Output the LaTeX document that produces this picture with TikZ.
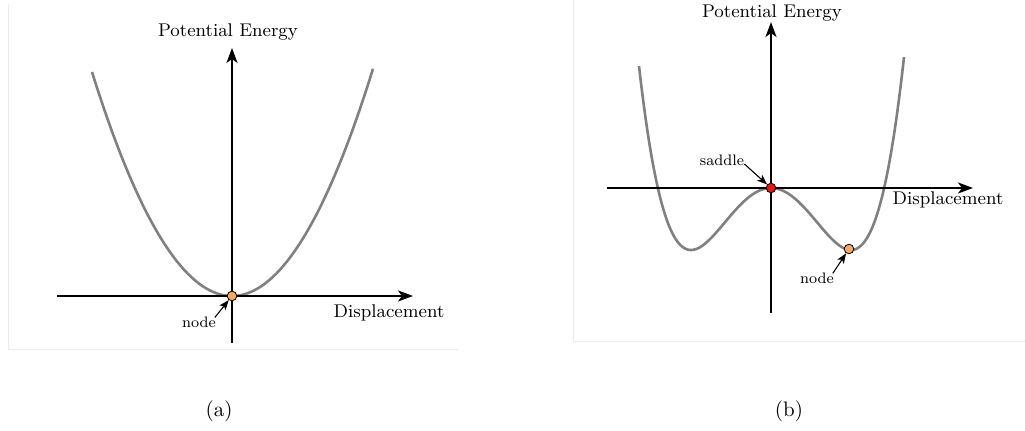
\documentclass[tikz,border=0pt]{standalone}
\usetikzlibrary{arrows.meta}
\definecolor{curvegray}{RGB}{128,128,128}
\definecolor{framegray}{RGB}{236,236,236}
\definecolor{nodeorange}{RGB}{246,168,96}
\definecolor{saddlered}{RGB}{235,20,20}
\begin{document}
\begin{tikzpicture}[x=0.5pt,y=-0.5pt,
  axis/.style={line width=1.1pt,-{Stealth[length=7.5pt,width=5.5pt,inset=2pt]}},
  curve/.style={line width=1.3pt,color=curvegray},
  frameline/.style={line width=0.5pt,color=framegray},
  biglabel/.style={inner sep=0pt,font=\fontsize{9.2}{11}\selectfont},
  smalllabel/.style={inner sep=0pt,font=\fontsize{7.6}{9}\selectfont},
  caplabel/.style={inner sep=0pt,font=\fontsize{10.5}{12}\selectfont},
  marker/.style={circle,draw=black,line width=0.4pt,inner sep=0pt,minimum size=4.8pt},
  labarrow/.style={line width=0.55pt,-{Stealth[length=5pt,width=3.8pt,inset=1.2pt]}}]
\useasboundingbox (0,0) rectangle (1025,431);
% frames
\draw[frameline] (8,4) -- (8,350) -- (458,350);
\draw[frameline] (573,0) -- (573,342) -- (1025,342);
% ---------- panel (a) ----------
\coordinate (aL) at (57,296);
\coordinate (aR) at (413,296);
\coordinate (aB) at (232,343);
\coordinate (aT) at (232,48);
\draw[curve] plot[domain=-140:141,samples=120] ({232+\x},{296-224*(\x/140)^2});
\draw[axis] (aL) -- (aR);
\draw[axis] (aB) -- (aT);
\node[marker,fill=nodeorange] (na) at (232,296) {};
\node[biglabel] (pea) at (228,32) {Potential Energy};
\node[biglabel] (dpa) at (389,313) {Displacement};
\node[smalllabel] (lna) at (199,322) {node};
\draw[labarrow,shorten <=0.5pt] ([xshift=-1pt,yshift=-1pt]lna.north east) -- (na);
\node[caplabel] (capa) at (219,411) {(a)};
% ---------- panel (b) ----------
\coordinate (bL) at (607,188);
\coordinate (bR) at (973,188);
\coordinate (bB) at (771,313);
\coordinate (bT) at (771,22);
\draw[curve] plot[domain=-132:133,samples=200] ({771+\x},{188-62*((\x/80)^4-2*(\x/80)^2)});
\draw[axis] (bL) -- (bR);
\draw[axis] (bB) -- (bT);
\node[marker,fill=saddlered] (sb) at (771,188) {};
\node[marker,fill=nodeorange] (nb) at (849,249) {};
\node[biglabel] (peb) at (772,13) {Potential Energy};
\node[biglabel] (dpb) at (948,200) {Displacement};
\node[smalllabel] (lsb) at (722,160) {saddle};
\node[smalllabel] (lnb) at (817,278) {node};
\draw[labarrow] ([yshift=-2pt]lsb.east) -- (sb);
\draw[labarrow,shorten <=0.5pt] ([xshift=-1pt,yshift=-1pt]lnb.north east) -- (nb);
\node[caplabel] (capb) at (789,411) {(b)};
\end{tikzpicture}
\end{document}
